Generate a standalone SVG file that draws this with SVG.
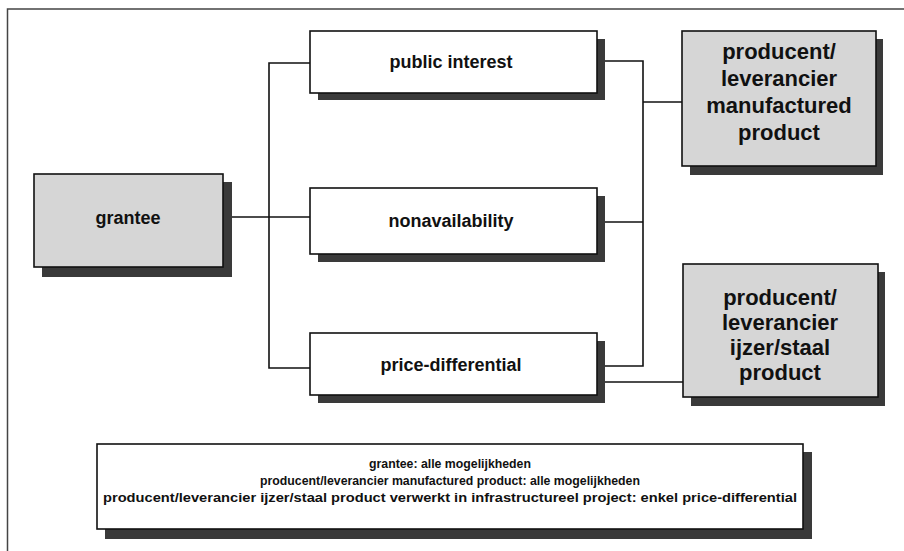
<svg xmlns="http://www.w3.org/2000/svg" width="904" height="551" viewBox="0 0 904 551">
<style>
.box{fill:#fff;stroke:#111;stroke-width:1.6}
.gbox{fill:#d6d6d6;stroke:#111;stroke-width:1.6}
.sh{fill:#3a3a3a}
.t{font-family:"Liberation Sans",Arial,sans-serif;font-weight:bold;font-size:18px;fill:#111;text-anchor:middle}
.tg{font-family:"Liberation Sans",Arial,sans-serif;font-weight:bold;font-size:22px;fill:#111;text-anchor:middle}
.tl{font-family:"Liberation Sans",Arial,sans-serif;font-weight:bold;font-size:12.3px;fill:#111;text-anchor:middle}
.c{fill:none;stroke:#111;stroke-width:1.6}
.frame{fill:none;stroke:#444;stroke-width:1.5}
</style>
<rect width="904" height="551" fill="#fff"/>
<path class="frame" d="M904 9 H7.5 V551"/>
<g id="connectors">
<path class="c" d="M223 217 H310"/>
<path class="c" d="M310 63 H269 V368 H310"/>
<path class="c" d="M605 61 H643 V366 H605"/>
<path class="c" d="M605 222 H643"/>
<path class="c" d="M643 102 H682"/>
<path class="c" d="M605 382 H683"/>
</g>
<g id="grantee">
<rect class="sh" x="42" y="182" width="190" height="95"/>
<rect class="gbox" x="34" y="174" width="189" height="93"/>
<text class="t" x="128" y="224">grantee</text>
</g>
<g id="public-interest">
<rect class="sh" x="318" y="39" width="287" height="61"/>
<rect class="box" x="310" y="31" width="287" height="62"/>
<text class="t" x="451" y="68">public interest</text>
</g>
<g id="nonavailability">
<rect class="sh" x="318" y="196" width="287" height="66"/>
<rect class="box" x="310" y="188" width="287" height="66"/>
<text class="t" x="451" y="227">nonavailability</text>
</g>
<g id="price-differential">
<rect class="sh" x="318" y="341" width="287" height="62"/>
<rect class="box" x="310" y="333" width="287" height="62"/>
<text class="t" x="451" y="371">price-differential</text>
</g>
<g id="producent-manufactured">
<rect class="sh" x="690" y="39" width="193" height="136"/>
<rect class="gbox" x="682" y="31" width="194" height="135"/>
<text class="tg" x="779" y="59">producent/</text>
<text class="tg" x="779" y="86">leverancier</text>
<text class="tg" x="779" y="113">manufactured</text>
<text class="tg" x="779" y="140">product</text>
</g>
<g id="producent-ijzer">
<rect class="sh" x="691" y="272" width="194" height="134"/>
<rect class="gbox" x="683" y="264" width="195" height="133"/>
<text class="tg" x="780" y="305">producent/</text>
<text class="tg" x="780" y="330">leverancier</text>
<text class="tg" x="780" y="355">ijzer/staal</text>
<text class="tg" x="780" y="380">product</text>
</g>
<g id="legend">
<rect class="sh" x="105" y="452" width="707" height="87"/>
<rect class="box" x="97" y="444" width="706" height="85"/>
<text class="tl" x="450" y="468">grantee: alle mogelijkheden</text>
<text class="tl" x="450" y="485">producent/leverancier manufactured product: alle mogelijkheden</text>
<text class="tl" x="450" y="502" textLength="694" lengthAdjust="spacingAndGlyphs">producent/leverancier ijzer/staal product verwerkt in infrastructureel project: enkel price-differential</text>
</g>
</svg>
